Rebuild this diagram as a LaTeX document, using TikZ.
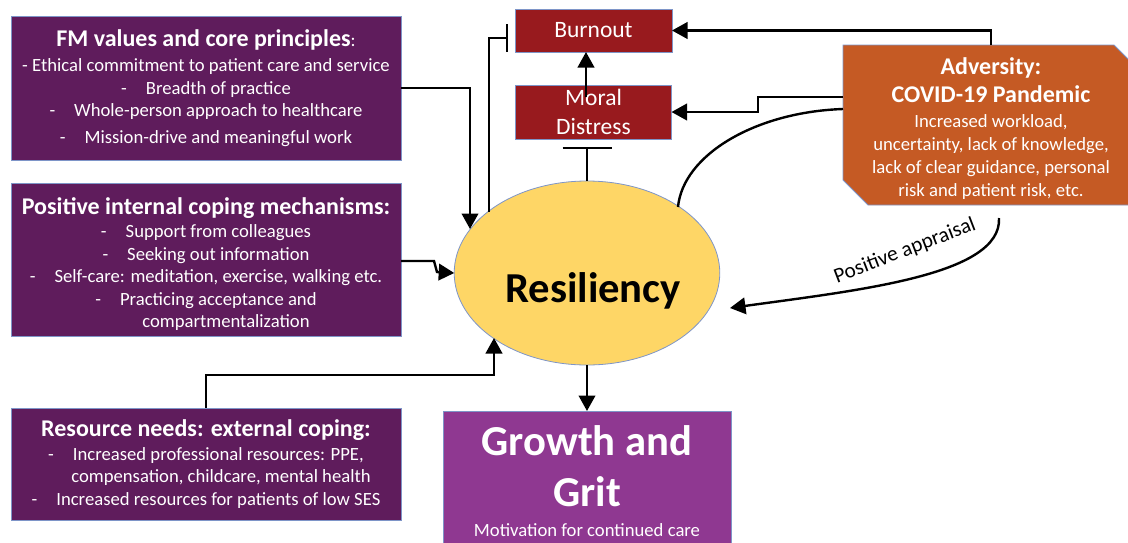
\documentclass[tikz,border=0pt]{standalone}
\usepackage{fontspec}
\setmainfont{Carlito}
\usetikzlibrary{arrows.meta,calc,shapes.geometric}
\definecolor{fmpurple}{HTML}{5F1C5C}
\definecolor{growpurple}{HTML}{8F3891}
\definecolor{burnred}{HTML}{981A1E}
\definecolor{advorange}{HTML}{C55A24}
\definecolor{resyellow}{HTML}{FED666}
\definecolor{edge}{HTML}{7E95C8}
\newcommand{\ttlfont}{\bfseries\fontsize{24}{24}\selectfont}
\newcommand{\dsh}{-\hspace{19pt}}
\begin{document}
\begin{tikzpicture}[x=1pt,y=-1pt,
  every node/.style={inner sep=0pt,outer sep=0pt},
  pbox/.style={draw=edge,line width=0.8pt,fill=fmpurple,text=white,minimum width=390pt,align=center,font=\fontsize{18.67}{22.5}\selectfont},
  rbox/.style={draw=edge,line width=0.8pt,fill=burnred,text=white,align=center,font=\fontsize{23.5}{29}\selectfont},
  arr/.style={line width=2.4pt,-{Triangle[length=15.5pt,width=16.5pt]}},
  inh/.style={line width=2.4pt,-{Bar[width=28pt]}},
  inhwide/.style={line width=2.4pt,-{Bar[width=49pt]}},
  link/.style={line width=2.4pt}]
\useasboundingbox (0,0) rectangle (1128,542);
\clip (0,0) rectangle (1128,542);

% left boxes
\node[pbox,minimum height=144pt] (fm) at (206,88)
 {{\ttlfont FM values and core principles}:\\[3pt]
  - Ethical commitment to patient care and service\\
  \dsh Breadth of practice\\
  \dsh Whole-person approach to healthcare\\[4pt]
  \dsh Mission-drive and meaningful work};

\node[pbox,minimum height=153pt] (pic) at (206,259.5)
 {\rule{0pt}{26pt}{\ttlfont Positive internal coping mechanisms:}\\[1pt]
  \dsh Support from colleagues\\
  \dsh Seeking out information\\
  \dsh Self-care: meditation, exercise, walking etc.\\
  \dsh Practicing acceptance and\\
  \hspace*{40pt}compartmentalization};

\node[pbox,minimum height=112pt] (need) at (206,464)
 {{\ttlfont Resource needs: external coping:}\\[1pt]
  \dsh Increased professional resources: PPE,\\
  \hspace*{30pt}compensation, childcare, mental health\\
  \dsh Increased resources for patients of low SES};

% red boxes
\node[rbox,minimum width=157pt,minimum height=43pt] (burn) at (593.5,30.5) {Burnout};
\node[rbox,minimum width=156pt,minimum height=54pt] (moral) at (593.5,112) {Moral\\Distress};

% adversity
\node[minimum width=296pt,minimum height=160pt] (adv) at (991,125) {};
\fill[advorange,draw=edge,line width=0.8pt]
  (adv.north west) -- ($(adv.north east)+(-25,0)$) -- ($(adv.north east)+(0,25)$)
  -- (adv.south east) -- ($(adv.south west)+(25,0)$) -- ($(adv.south west)+(0,-25)$) -- cycle;
\node[text=white,align=center,font=\fontsize{18.67}{23}\selectfont] (advtxt) at ($(adv.center)+(0,4)$)
 {{\ttlfont Adversity:}\\[5pt]
  {\ttlfont COVID-19 Pandemic}\\[2pt]
  Increased workload,\\
  uncertainty, lack of knowledge,\\
  lack of clear guidance, personal\\
  risk and patient risk, etc.};

% resiliency
\node[ellipse,draw=edge,line width=0.8pt,fill=resyellow,minimum width=262pt,minimum height=184pt,
  text height=67pt,text depth=9pt,font=\bfseries\fontsize{42.67}{46}\selectfont] (res) at (587,273)
  {\hspace*{12pt}Resiliency};

% growth
\node[draw=edge,line width=0.8pt,fill=growpurple,text=white,minimum width=288pt,minimum height=140pt,
  anchor=north,align=center,font=\bfseries\fontsize{42.67}{51}\selectfont] (grow) at (587,411)
  {Growth and\\Grit\\[-21pt]{\mdseries\fontsize{18.67}{20}\selectfont Motivation for continued care}};

% connectors
\draw[arr] (fm.east) -| ($(res.center)+(-117,-44)$);
\draw[inh] ($(res.center)+(-98,-61)$) |- ($(burn.west)+(-7,7.5)$);
\draw[arr] ($(pic.east)+(0,1.5)$) -- ++(33,0) -- ++(3,11) -- (res.west);
\draw[arr] (need.north) |- ($(res.center)+(-93,102)$) -- ($(res.center)+(-93,65)$);
\draw[arr] (res.south) -- (grow.north);
\draw[inhwide,shorten >=8pt] (res.north) -- (res.north |- moral.south);
\draw[arr] ($(moral.north)+(-7.5,12)$) -- ($(burn.south)+(-7.5,0)$);
\draw[arr] ($(adv.north west)+(148,0)$) |- (burn.east);
\draw[arr] ($(adv.north west)+(0,52)$) -- ++(-85,0) |- (moral.east);
\draw[link] ($(adv.north west)+(0,64)$) .. controls (755,112) and (683,155) .. ($(res.center)+(91,-66)$);
\coordinate (pa) at ($(adv.south west)+(156,13)$);
\draw[arr] (pa) .. controls (1002,275) and (860,290) .. ($(res.center)+(143,35)$);
\node[rotate=21,font=\fontsize{21.3}{24}\selectfont] (palbl) at (905,251) {Positive appraisal};
\end{tikzpicture}
\end{document}
